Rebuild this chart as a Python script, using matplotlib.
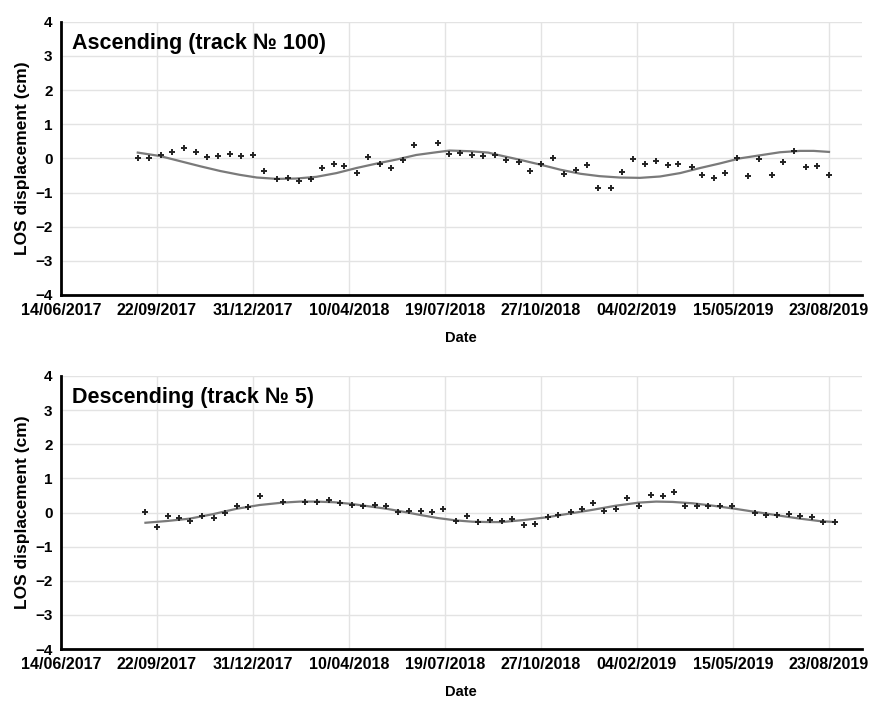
import numpy as np
import pandas as pd
import matplotlib
matplotlib.use("Agg")
import matplotlib.pyplot as plt
import matplotlib.dates as mdates

plt.rcParams['font.family'] = ['Liberation Sans', 'DejaVu Sans']

start = pd.Timestamp('2017-06-14')

# ascending track 100: measurements (days since 14/06/2017, cm)
asc_days = [80, 92, 104, 116, 128, 141, 152, 164, 176, 188, 200, 211, 225, 236,
            248, 260, 272, 284, 295, 308, 320, 332, 344, 356, 368, 393, 404, 416,
            428, 440, 452, 464, 477, 489, 500, 512, 524, 536, 548, 559, 573, 584,
            596, 608, 620, 632, 643, 657, 668, 680, 692, 704, 716, 727, 741, 752,
            764, 776, 788, 800]
asc_vals = [0.0, 0.0, 0.11, 0.2, 0.29, 0.2, 0.04, 0.08, 0.14, 0.08, 0.11, -0.36,
            -0.6, -0.58, -0.67, -0.6, -0.29, -0.17, -0.22, -0.42, 0.05, -0.17,
            -0.29, -0.04, 0.38, 0.44, 0.14, 0.17, 0.11, 0.08, 0.11, -0.06, -0.12,
            -0.36, -0.17, 0.0, -0.46, -0.33, -0.2, -0.86, -0.86, -0.4, -0.02,
            -0.17, -0.09, -0.2, -0.17, -0.26, -0.48, -0.57, -0.44, 0.0, -0.51,
            -0.03, -0.48, -0.12, 0.22, -0.26, -0.22, -0.48]
# ascending fitted trend
asc_fit_days = [80, 103, 124, 145, 166, 186, 204, 225, 245, 266, 287, 308, 329,
                350, 370, 391, 405, 426, 445, 457, 478, 499, 520, 541, 561, 582,
                603, 624, 645, 666, 686, 707, 728, 749, 770, 784, 800]
asc_fit_vals = [0.17, 0.07, -0.08, -0.23, -0.37, -0.48, -0.56, -0.6, -0.59,
                -0.54, -0.43, -0.28, -0.15, -0.03, 0.1, 0.18, 0.23, 0.21, 0.17,
                0.09, -0.04, -0.18, -0.33, -0.45, -0.52, -0.56, -0.57, -0.53,
                -0.43, -0.28, -0.15, 0.0, 0.09, 0.18, 0.22, 0.22, 0.19]

# descending track 5: measurements
desc_days = [88, 100, 111, 123, 134, 147, 159, 171, 183, 195, 207, 231, 254, 267,
             279, 291, 303, 315, 327, 339, 351, 363, 375, 386, 398, 411, 423, 434,
             447, 459, 470, 482, 494, 507, 518, 531, 543, 554, 566, 578, 590, 602,
             615, 627, 639, 650, 662, 674, 686, 699, 723, 734, 746, 758, 770, 782,
             794, 806]
desc_vals = [0.01, -0.43, -0.11, -0.16, -0.25, -0.11, -0.16, -0.02, 0.18, 0.16,
             0.47, 0.3, 0.3, 0.3, 0.38, 0.28, 0.23, 0.18, 0.23, 0.18, 0.01, 0.04,
             0.04, 0.01, 0.11, -0.26, -0.1, -0.29, -0.21, -0.24, -0.18, -0.36,
             -0.33, -0.14, -0.07, 0.02, 0.1, 0.27, 0.03, 0.11, 0.43, 0.18, 0.51,
             0.48, 0.61, 0.18, 0.2, 0.18, 0.18, 0.18, 0.0, -0.06, -0.08, -0.04,
             -0.1, -0.14, -0.28, -0.28]
desc_fit_days = [88, 110, 134, 158, 183, 207, 231, 249, 266, 285, 303, 321, 339,
                 357, 374, 392, 411, 429, 447, 459, 482, 506, 530, 554, 578, 602,
                 620, 637, 658, 679, 702, 725, 748, 770, 790, 806]
desc_fit_vals = [-0.3, -0.25, -0.18, -0.05, 0.11, 0.22, 0.29, 0.32, 0.32, 0.3,
                 0.25, 0.18, 0.11, 0.02, -0.07, -0.16, -0.23, -0.27, -0.28, -0.28,
                 -0.22, -0.14, -0.03, 0.08, 0.2, 0.29, 0.32, 0.31, 0.27, 0.2,
                 0.11, 0.01, -0.09, -0.18, -0.25, -0.28]

titles = ['Ascending (track № 100)', 'Descending (track № 5)']
tick_days = [0, 100, 200, 300, 400, 500, 600, 700, 800]


def to_dates(days):
    return [start + pd.Timedelta(days=d) for d in days]


fig = plt.figure(figsize=(8.76, 7.04), dpi=100)
ax1 = fig.add_axes([0.0696, 0.581, 0.914, 0.388])
ax2 = fig.add_axes([0.0696, 0.078, 0.914, 0.388])

series = [(asc_days, asc_vals, asc_fit_days, asc_fit_vals),
          (desc_days, desc_vals, desc_fit_days, desc_fit_vals)]

for ax, (d, v, fd, fv), title in zip([ax1, ax2], series, titles):
    ax.plot(to_dates(fd), fv, color='#7a7a7a', linewidth=1.6, zorder=2)
    ax.plot(to_dates(d), v, linestyle='none', marker='+', markersize=4,
            markeredgewidth=1.4, color='#222222', zorder=3)
    ax.set_ylim(-4, 4)
    ax.set_yticks(range(-4, 5))
    ax.set_xlim(start, start + pd.Timedelta(days=834))
    ax.set_xticks(to_dates(tick_days))
    ax.xaxis.set_major_formatter(mdates.DateFormatter('%d/%m/%Y'))
    ax.grid(True, color='#e3e3e3', linewidth=1)
    ax.set_axisbelow(True)
    for s in ['top', 'right']:
        ax.spines[s].set_visible(False)
    for s in ['left', 'bottom']:
        ax.spines[s].set_linewidth(2)
        ax.spines[s].set_color('black')
    ax.tick_params(length=0, pad=6)
    for lab in ax.get_xticklabels():
        lab.set_fontweight('bold')
        lab.set_fontsize(11.5)
    for lab in ax.get_yticklabels():
        lab.set_fontweight('bold')
        lab.set_fontsize(11)
    ax.set_xlabel('Date', fontweight='bold', fontsize=10.5, labelpad=9)
    ax.set_ylabel('LOS displacement (cm)', fontweight='bold', fontsize=12.5,
                  labelpad=4)
    ax.text(0.014, 0.96, title, transform=ax.transAxes, fontsize=15.5,
            fontweight='bold', va='top', ha='left')

fig.savefig('out.png', dpi=100)
